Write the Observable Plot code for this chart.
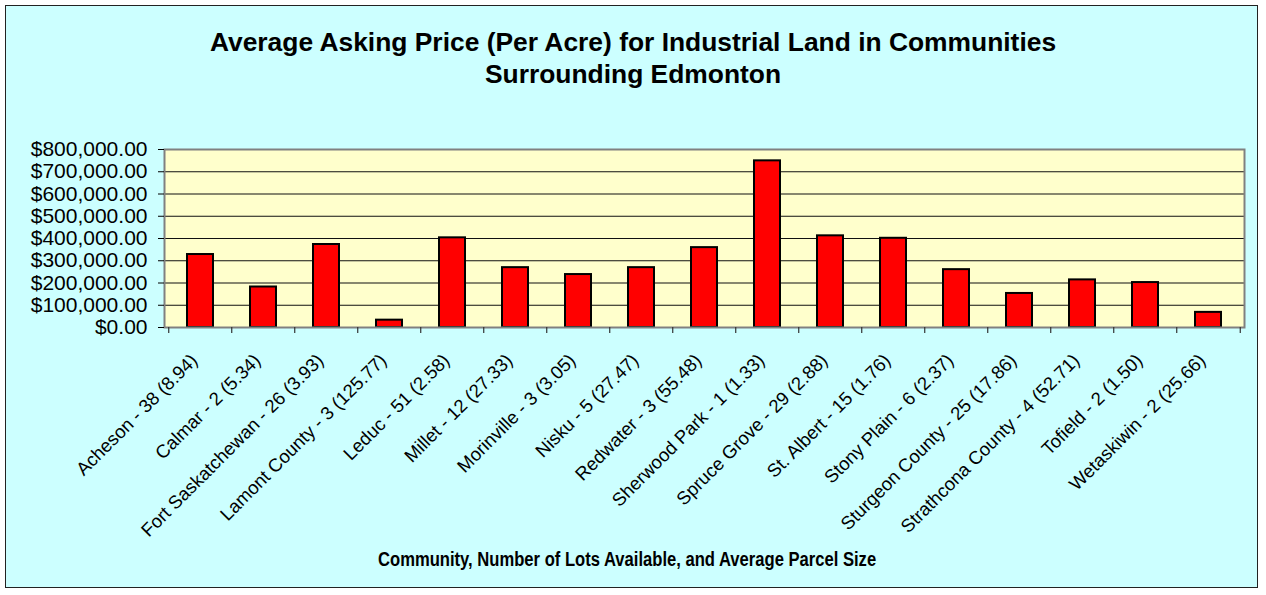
<!DOCTYPE html>
<html><head><meta charset="utf-8">
<script src="https://cdn.jsdelivr.net/npm/d3@7"></script>
<script src="https://cdn.jsdelivr.net/npm/@observablehq/plot@0.6"></script>
<style>
body{margin:0;background:#fff;font-family:"Liberation Sans",Arial,sans-serif;}
#wrap{position:relative;width:1266px;height:595px;overflow:hidden}
#bg{position:absolute;left:5px;top:5px;width:1253px;height:583px;background:#CCFFFF;border:1.5px solid #222;box-sizing:border-box}
#title{position:absolute;left:0;width:1266px;top:26px;text-align:center;font-weight:bold;font-size:26.4px;line-height:32px;color:#000}
#xtitle{position:absolute;left:0;width:1254px;top:547px;text-align:center;font-weight:bold;font-size:20px;line-height:24px;color:#000}
#xtitle span{display:inline-block;transform:scaleX(0.83);transform-origin:center}
#chart{position:absolute;left:0;top:0}
</style></head>
<body>
<div id="wrap">
  <div id="bg"></div>
  <div id="chart"></div>
  <div id="title">Average Asking Price (Per Acre) for Industrial Land in Communities<br>Surrounding Edmonton</div>
  <div id="xtitle"><span>Community, Number of Lots Available, and Average Parcel Size</span></div>
</div>
<script>
const communities = [
  "Acheson - 38 (8.94)", "Calmar - 2 (5.34)", "Fort Saskatchewan - 26 (3.93)",
  "Lamont County - 3 (125.77)", "Leduc - 51 (2.58)", "Millet - 12 (27.33)",
  "Morinville - 3 (3.05)", "Nisku - 5 (27.47)", "Redwater - 3 (55.48)",
  "Sherwood Park - 1 (1.33)", "Spruce Grove - 29 (2.88)", "St. Albert - 15 (1.76)",
  "Stony Plain - 6 (2.37)", "Sturgeon County - 25 (17.86)", "Strathcona County - 4 (52.71)",
  "Tofield - 2 (1.50)", "Wetaskiwin - 2 (25.66)"
];
const prices = [328000, 182000, 373000, 33000, 403000, 269000, 238000, 269000, 359000,
  749000, 412000, 401000, 260000, 153000, 214000, 202000, 68000];
const yTicks = [0, 100000, 200000, 300000, 400000, 500000, 600000, 700000, 800000];

const data = communities.map((c, i) => ({community: c, price: prices[i]}));
const W = 1266, H = 595, mL = 164, mR = 22, mT = 149, mB = 268;
const step = (W - mL - mR) / communities.length;

const chart = Plot.plot({
  width: W, height: H,
  marginLeft: mL, marginRight: mR, marginTop: mT, marginBottom: mB,
  style: {background: "transparent", fontFamily: "'Liberation Sans', Arial, sans-serif", color: "#000", overflow: "visible"},
  x: {domain: communities, paddingInner: 0.59, paddingOuter: 0.295, axis: null},
  y: {domain: [0, 800000], axis: null},
  marks: [
    Plot.frame({fill: "#FFFFCC"}),
    Plot.ruleY(yTicks.filter(d => d > 0 && d < 800000), {stroke: "#111", strokeWidth: 1.2}),
    Plot.barY(data, {x: "community", y: "price", fill: "#FF0000", stroke: "#000", strokeWidth: 2}),
    Plot.frame({stroke: "#808080", strokeWidth: 2}),
    Plot.axisY({ticks: yTicks, tickFormat: d => "$" + d3.format(",.2f")(d), tickSize: 6, tickPadding: 11, fontSize: 21, label: null}),
    Plot.ruleX(communities, {x: d => d, y1: 0, y2: 0, insetBottom: -6, dx: -step / 2, stroke: "#333", strokeWidth: 1.2}),
    Plot.ruleX(communities.slice(-1), {x: d => d, y1: 0, y2: 0, insetBottom: -6, dx: step / 2, stroke: "#333", strokeWidth: 1.2}),
    Plot.axisX({tickRotate: -45, tickSize: 0, tickPadding: 30, dx: -6, fontSize: 18.5, label: null})
  ]
});
document.getElementById("chart").appendChild(chart);
</script>
</body></html>
